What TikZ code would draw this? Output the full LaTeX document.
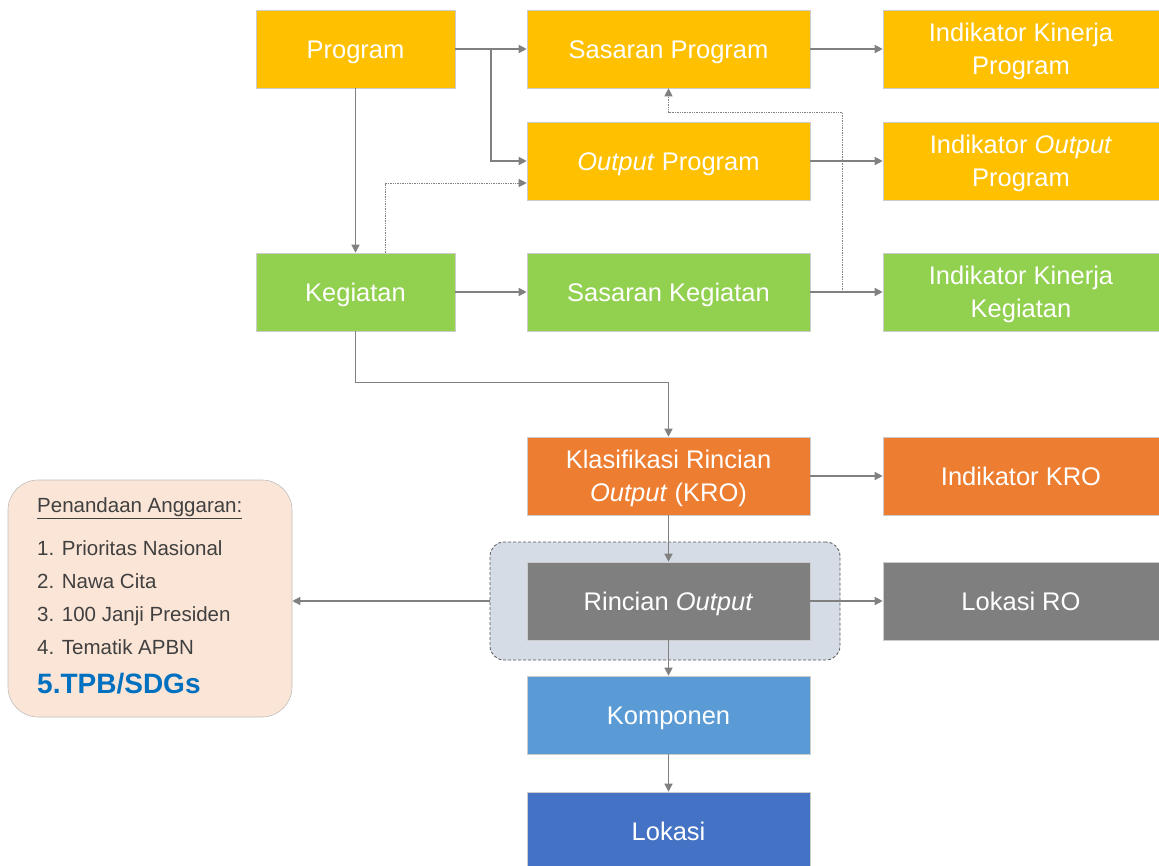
\documentclass[tikz,border=0pt]{standalone}
\usepackage{fontspec}
\setmainfont{Liberation Sans}
\usetikzlibrary{arrows.meta}
\definecolor{kuning}{HTML}{FFC000}
\definecolor{hijau}{HTML}{92D050}
\definecolor{oranye}{HTML}{ED7D31}
\definecolor{abu}{HTML}{7F7F7F}
\definecolor{biru}{HTML}{5B9BD5}
\definecolor{birutua}{HTML}{4472C4}
\definecolor{latar}{HTML}{D6DCE5}
\definecolor{krem}{HTML}{FBE5D6}
\definecolor{garis}{HTML}{808080}
\definecolor{teks}{HTML}{404040}
\definecolor{sdg}{HTML}{0070C0}
\begin{document}
\begin{tikzpicture}[x=1pt,y=-1pt]
  \tikzstyle{kotak}=[rectangle, draw=black!20, line width=0.6pt, text=white, align=center, minimum height=78pt, inner sep=2pt, text height=18.4pt, text depth=0pt, font=\fontsize{25.5}{33}\selectfont]
  \tikzstyle{dua}=[text height=51.4pt]
  \tikzstyle{sempit}=[kotak, minimum width=199pt]
  \tikzstyle{lebar}=[kotak, minimum width=283pt]
  \tikzstyle{ind}=[kotak, minimum width=276pt]
  \tikzstyle{panah}=[draw=garis, line width=1.4pt, -{Triangle[length=8pt,width=8pt]}]
  \tikzstyle{titik}=[panah, densely dotted, line width=1pt]
  \useasboundingbox (0,0) rectangle (1159,865);
  \node[sempit, fill=kuning] (prog) at (355.5,49) {Program};
  \node[lebar, fill=kuning] (sasprog) at (668.5,49) {Sasaran Program};
  \node[ind, dua, fill=kuning] (ikp) at (1021,49) {Indikator Kinerja\\Program};
  \node[lebar, fill=kuning] (outprog) at (668.5,161) {\textit{Output} Program};
  \node[ind, dua, fill=kuning] (iop) at (1021,161) {Indikator \textit{Output}\\Program};
  \node[sempit, fill=hijau] (keg) at (355.5,292) {Kegiatan};
  \node[lebar, fill=hijau] (saskeg) at (668.5,292) {Sasaran Kegiatan};
  \node[ind, dua, fill=hijau] (ikk) at (1021,292) {Indikator Kinerja\\Kegiatan};
  \node[lebar, dua, fill=oranye] (kro) at (668.5,476) {Klasifikasi Rincian\\\textit{Output} (KRO)};
  \node[ind, fill=oranye] (ikro) at (1021,476) {Indikator KRO};
  \node[rectangle, rounded corners=14pt, draw=black!65, densely dashed, line width=0.8pt, fill=latar, minimum width=350pt, minimum height=118pt] (grup) at (665,601) {};
  \node[lebar, fill=abu] (ro) at (668.5,601) {Rincian \textit{Output}};
  \node[ind, fill=abu] (lro) at (1021,601) {Lokasi RO};
  \node[lebar, fill=biru] (komp) at (668.5,715) {Komponen};
  \node[lebar, fill=birutua] (lok) at (668.5,831) {Lokasi};
  \node[rectangle, rounded corners=30pt, draw=black!25, line width=0.6pt, fill=krem, minimum width=284pt, minimum height=237pt] (tag) at (150,598.5) {};
  \node[anchor=north west, inner sep=0pt, align=left, text=teks, font=\fontsize{20.5}{33}\selectfont] (daftar) at (37,497) {\underline{Penandaan Anggaran:}\\[10pt]
    1. Prioritas Nasional\\
    2. Nawa Cita\\
    3. 100 Janji Presiden\\
    4. Tematik APBN\\[6pt]
    {\fontsize{28}{33}\selectfont\bfseries\color{sdg}5.TPB/SDGs}};
  \coordinate (cabang) at (491,49);
  \coordinate (simpang) at (842,292);
  \draw[panah] (prog.east) -- (sasprog.west);
  \draw[panah] (cabang) |- (outprog.west);
  \draw[panah] (prog) -- (keg);
  \draw[titik] ([xshift=30pt]keg.north) |- ([yshift=-22pt]outprog.west);
  \draw[panah] (keg) -- (saskeg);
  \draw[panah] (sasprog) -- (ikp);
  \draw[panah] (outprog) -- (iop);
  \draw[panah] (saskeg) -- (ikk);
  \draw[titik] (simpang) |- ([yshift=-24pt]sasprog.south) -- (sasprog.south);
  \draw[panah] (keg.south) |- ([yshift=54pt]kro.north) -- (kro.north);
  \draw[panah] (kro) -- (ikro);
  \draw[panah] (kro) -- (ro);
  \draw[panah] (ro) -- (lro);
  \draw[panah] (grup.west) -- (tag.east |- grup.west);
  \draw[panah] (ro) -- (komp);
  \draw[panah] (komp) -- (lok);
\end{tikzpicture}
\end{document}
